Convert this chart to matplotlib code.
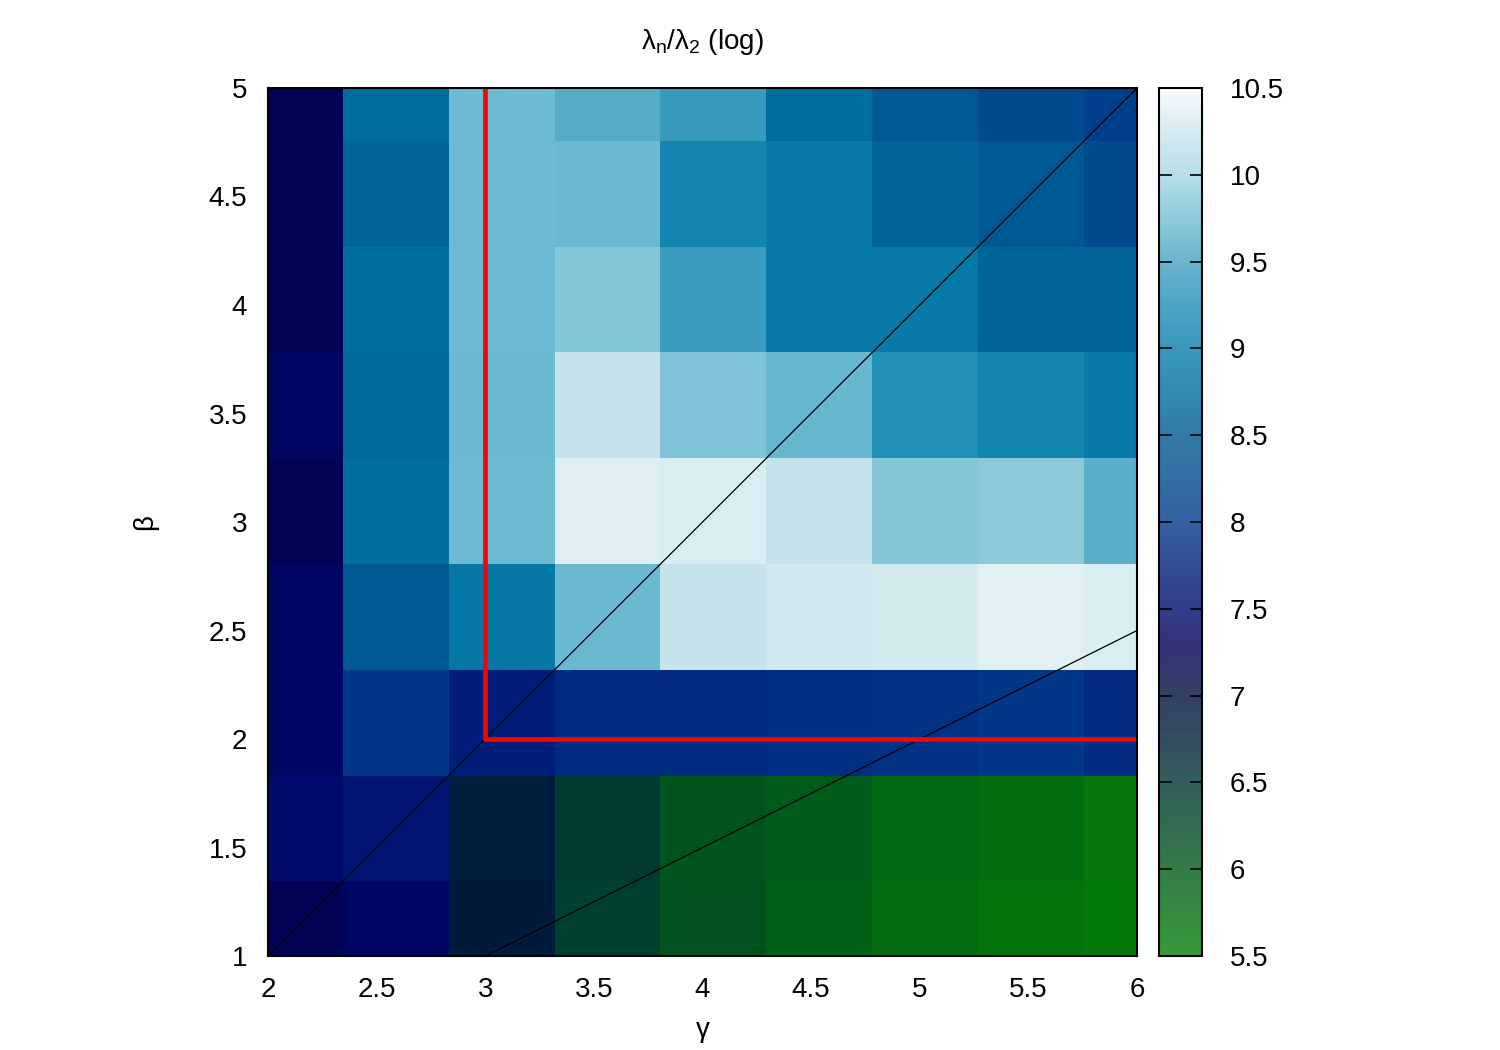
import numpy as np
import matplotlib
matplotlib.use("Agg")
import matplotlib.pyplot as plt
from matplotlib.colors import LinearSegmentedColormap, Normalize, to_rgb
from matplotlib.cm import ScalarMappable

plt.rcParams['font.family'] = ['Liberation Sans', 'DejaVu Sans']
plt.rcParams['mathtext.fontset'] = 'custom'
plt.rcParams['mathtext.rm'] = 'Liberation Sans'
plt.rcParams['mathtext.it'] = 'Liberation Sans'
plt.rcParams['mathtext.default'] = 'regular'

# grid of parameter values (cell centres)
gamma = [2.1, 2.5875, 3.075, 3.5625, 4.05, 4.5375, 5.025, 5.5125, 6.0]
beta = [1.1, 1.5875, 2.075, 2.5625, 3.05, 3.5375, 4.025, 4.5125, 5.0]

# log(lambda_n / lambda_2), rows from beta=1.1 (bottom) to beta=5.0 (top)
ratio_log = [
    [7.25, 7.40, 6.85, 6.38, 6.12, 5.90, 5.78, 5.65, 5.58],
    [7.50, 7.60, 6.80, 6.45, 6.08, 6.00, 5.80, 5.75, 5.62],
    [7.40, 7.95, 7.70, 7.84, 7.84, 7.85, 7.90, 7.95, 7.84],
    [7.40, 8.48, 8.90, 9.70, 10.21, 10.27, 10.30, 10.37, 10.33],
    [7.25, 8.78, 9.73, 10.35, 10.33, 10.20, 9.85, 9.87, 9.62],
    [7.38, 8.72, 9.71, 10.21, 9.80, 9.68, 9.27, 9.12, 8.93],
    [7.25, 8.78, 9.73, 9.85, 9.43, 8.93, 8.93, 8.63, 8.63],
    [7.25, 8.63, 9.73, 9.71, 9.13, 8.93, 8.63, 8.48, 8.25],
    [7.25, 8.75, 9.73, 9.60, 9.42, 8.75, 8.48, 8.23, 8.05],
]

# colour scale
cb_min, cb_max = 5.5, 10.5
cb_ticks = [5.5, 6, 6.5, 7, 7.5, 8, 8.5, 9, 9.5, 10, 10.5]
anchor_vals = [5.5, 6.0, 6.5, 7.0, 7.3, 7.5, 8.0, 8.25, 8.5, 8.75,
               9.0, 9.25, 9.5, 9.75, 10.0, 10.25, 10.5]
anchor_cols = ['#068006', '#00591a', '#003633', '#000e40', '#000059', '#000b6d',
               '#013b8b', '#004a8d', '#005992', '#006e9d', '#097eab', '#1d8db5',
               '#45a1bf', '#70bdd3', '#a6d4e2', '#cae5ec', '#f6fafb']

pos = [(v - cb_min) / (cb_max - cb_min) for v in anchor_vals]
cell_cmap = LinearSegmentedColormap.from_list('cells', list(zip(pos, anchor_cols)))
# the colour box is drawn paler than the cells
bar_cols = [tuple(0.8 * np.array(to_rgb(c)) + 0.2) for c in anchor_cols]
bar_cmap = LinearSegmentedColormap.from_list('bar', list(zip(pos, bar_cols)))
norm = Normalize(cb_min, cb_max)

fig = plt.figure(figsize=(15, 10.5), dpi=100)
ax = fig.add_axes([0.1787, 0.0895, 0.5793, 0.8267])

ax.pcolormesh(gamma, beta, np.array(ratio_log), shading='nearest',
              cmap=cell_cmap, norm=norm)

# reference lines
ax.plot([2, 6], [1, 5], color='black', lw=0.9)
ax.plot([3, 6], [1, 2.5], color='black', lw=0.9)
ax.plot([3, 3, 6], [5, 2, 2], color='red', lw=3.4)

ax.set_xlim(2, 6)
ax.set_ylim(1, 5)
ax.set_xticks([2, 2.5, 3, 3.5, 4, 4.5, 5, 5.5, 6])
ax.set_yticks([1, 1.5, 2, 2.5, 3, 3.5, 4, 4.5, 5])
ax.set_xticklabels(['2', '2.5', '3', '3.5', '4', '4.5', '5', '5.5', '6'])
ax.set_yticklabels(['1', '1.5', '2', '2.5', '3', '3.5', '4', '4.5', '5'])
ax.tick_params(length=0, labelsize=20, pad=15)
for s in ax.spines.values():
    s.set_linewidth(1.5)

ax.set_xlabel('γ', fontsize=20, labelpad=10)
ax.set_ylabel('β', fontsize=20, labelpad=36)
ax.set_title(r'$\lambda_n/\lambda_2$ (log)', fontsize=20, pad=28)

cax = fig.add_axes([0.7727, 0.0895, 0.0287, 0.8267])
cb = fig.colorbar(ScalarMappable(norm=norm, cmap=bar_cmap), cax=cax)
cb.set_ticks(cb_ticks)
cb.set_ticklabels(['5.5', '6', '6.5', '7', '7.5', '8', '8.5', '9', '9.5', '10', '10.5'])
cax.tick_params(direction='in', length=9, width=1.2, left=True, right=True,
                labelsize=20, pad=20)
cb.outline.set_linewidth(1.5)

fig.savefig('out.png', dpi=100)
